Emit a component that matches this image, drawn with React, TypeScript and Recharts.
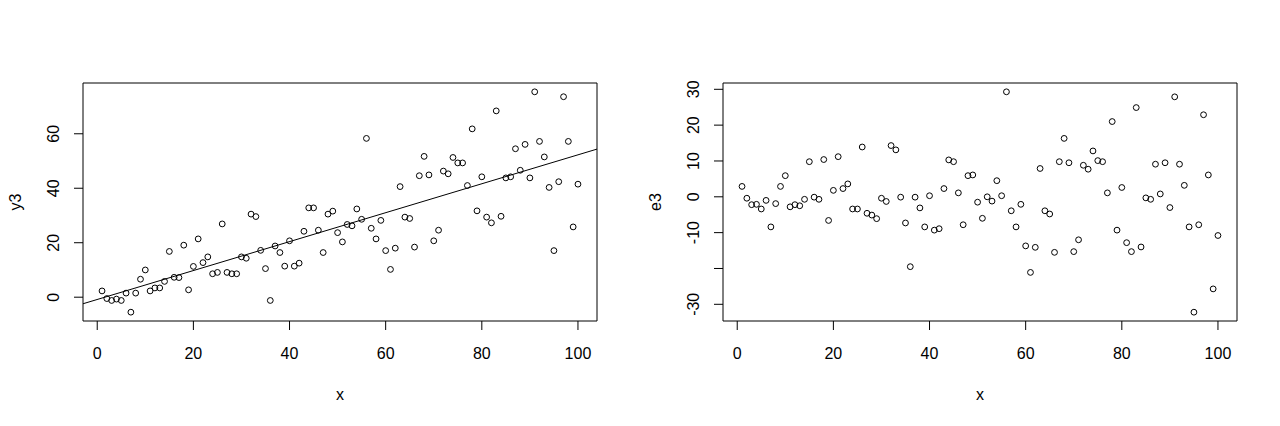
import React from "react";
import {
  ScatterChart,
  Scatter,
  XAxis,
  YAxis,
  ReferenceLine,
  ReferenceArea,
  Label,
} from "recharts";

// x is 1..100
const xValues = [
  1, 2, 3, 4, 5, 6, 7, 8, 9, 10, 11, 12, 13, 14, 15, 16, 17, 18, 19, 20,
  21, 22, 23, 24, 25, 26, 27, 28, 29, 30, 31, 32, 33, 34, 35, 36, 37, 38, 39, 40,
  41, 42, 43, 44, 45, 46, 47, 48, 49, 50, 51, 52, 53, 54, 55, 56, 57, 58, 59, 60,
  61, 62, 63, 64, 65, 66, 67, 68, 69, 70, 71, 72, 73, 74, 75, 76, 77, 78, 79, 80,
  81, 82, 83, 84, 85, 86, 87, 88, 89, 90, 91, 92, 93, 94, 95, 96, 97, 98, 99, 100,
];

const y3Values = [
  2.3, -0.5, -1.2, -0.7, -1.2, 1.5, -5.5, 1.5, 6.6, 10.0,
  2.3, 3.4, 3.4, 5.8, 16.8, 7.3, 7.2, 19.1, 2.7, 11.3,
  21.4, 12.7, 14.8, 8.6, 9.1, 26.9, 9.1, 8.6, 8.6, 14.8,
  14.3, 30.5, 29.6, 17.2, 10.5, -1.2, 18.8, 16.4, 11.4, 20.7,
  11.4, 12.5, 24.2, 32.8, 32.8, 24.6, 16.4, 30.5, 31.6, 23.7,
  20.3, 26.7, 26.2, 32.4, 28.6, 58.3, 25.3, 21.4, 28.2, 17.1,
  10.2, 18.0, 40.6, 29.4, 28.9, 18.4, 44.6, 51.7, 44.9, 20.7,
  24.6, 46.3, 45.3, 51.3, 49.3, 49.3, 41.0, 61.8, 31.7, 44.2,
  29.4, 27.3, 68.4, 29.7, 43.8, 44.2, 54.5, 46.6, 56.1, 43.8,
  75.4, 57.2, 51.5, 40.3, 17.1, 42.4, 73.6, 57.2, 25.8, 41.5,
];

const e3Values = [
  2.9, -0.4, -2.2, -2.1, -3.4, -1.0, -8.4, -1.9, 2.9, 5.9,
  -2.8, -2.2, -2.5, -0.7, 9.8, -0.1, -0.7, 10.4, -6.6, 1.8,
  11.2, 2.3, 3.6, -3.4, -3.4, 13.9, -4.6, -5.1, -6.1, -0.4,
  -1.3, 14.3, 13.1, -0.1, -7.3, -19.5, -0.1, -3.1, -8.4, 0.3,
  -9.3, -8.9, 2.3, 10.3, 9.8, 1.1, -7.8, 5.9, 6.1, -1.5,
  -6.0, 0.0, -1.2, 4.5, 0.3, 29.3, -3.9, -8.4, -2.1, -13.7,
  -21.1, -14.1, 7.9, -3.9, -4.8, -15.5, 9.8, 16.3, 9.5, -15.3,
  -12.0, 8.8, 7.7, 12.8, 10.1, 9.8, 1.1, 21.0, -9.3, 2.6,
  -12.8, -15.3, 24.9, -14.0, -0.3, -0.7, 9.1, 0.8, 9.5, -3.0,
  27.9, 9.1, 3.2, -8.4, -32.2, -7.8, 22.9, 6.1, -25.7, -10.8,
];

const xTicks = [0, 20, 40, 60, 80, 100];
const y3Ticks = [0, 20, 40, 60];
const e3Ticks = [-30, -20, -10, 0, 10, 20, 30];
// R drops the -20 label because it would overlap
const e3HiddenLabels = [-20];

const xDomain: [number, number] = [-2.96, 103.96];
const y3Domain: [number, number] = [-8.74, 78.64];
const e3Domain: [number, number] = [-34.66, 31.76];

const FONT = "'Liberation Sans', Arial, sans-serif";
const PANEL_W = 640;
const PANEL_H = 426;

const y3Data = xValues.map((x, i) => ({ x, y: y3Values[i] }));
const e3Data = xValues.map((x, i) => ({ x, y: e3Values[i] }));

// abline(lm(y3 ~ x))
const fit = (() => {
  const n = xValues.length;
  const mx = xValues.reduce((a, b) => a + b, 0) / n;
  const my = y3Values.reduce((a, b) => a + b, 0) / n;
  let sxy = 0;
  let sxx = 0;
  xValues.forEach((x, i) => {
    sxy += (x - mx) * (y3Values[i] - my);
    sxx += (x - mx) * (x - mx);
  });
  const b = sxy / sxx;
  return { a: my - b * mx, b };
})();

const OpenCircle = (props: any) => (
  <circle cx={props.cx} cy={props.cy} r={2.9} fill="none" stroke="#000" strokeWidth={1} />
);

const XTick = ({ x, payload }: any) => (
  <text x={x} y={353} textAnchor="middle" dominantBaseline="central" fontFamily={FONT} fontSize={16} fill="#000">
    {payload.value}
  </text>
);

const makeYTick = (hidden: number[]) => ({ y, payload }: any) =>
  hidden.includes(payload.value) ? (
    <g />
  ) : (
    <text
      x={54}
      y={y}
      transform={`rotate(-90, 54, ${y})`}
      textAnchor="middle"
      dominantBaseline="central"
      fontFamily={FONT}
      fontSize={16}
      fill="#000"
    >
      {payload.value}
    </text>
  );

type PanelProps = {
  data: { x: number; y: number }[];
  yDomain: [number, number];
  yTicks: number[];
  yLabel: string;
  hiddenLabels?: number[];
  withFit?: boolean;
};

const Panel = ({ data, yDomain, yTicks, yLabel, hiddenLabels = [], withFit }: PanelProps) => (
  <ScatterChart width={PANEL_W} height={PANEL_H} margin={{ top: 83, right: 43, bottom: 0, left: 0 }}>
    <XAxis
      type="number"
      dataKey="x"
      domain={xDomain}
      ticks={xTicks}
      allowDataOverflow
      height={105}
      axisLine={false}
      tickLine={{ stroke: "#000" }}
      tickSize={9}
      tick={<XTick />}
    >
      <Label
        content={() => (
          <text x={340} y={400} textAnchor="middle" fontFamily={FONT} fontSize={16} fill="#000">
            x
          </text>
        )}
      />
    </XAxis>
    <YAxis
      type="number"
      dataKey="y"
      domain={yDomain}
      ticks={yTicks}
      allowDataOverflow
      width={83}
      axisLine={false}
      tickLine={{ stroke: "#000" }}
      tickSize={9}
      tick={makeYTick(hiddenLabels)}
    >
      <Label
        content={() => (
          <text
            x={15}
            y={202}
            transform="rotate(-90, 15, 202)"
            textAnchor="middle"
            dominantBaseline="central"
            fontFamily={FONT}
            fontSize={16}
            fill="#000"
          >
            {yLabel}
          </text>
        )}
      />
    </YAxis>
    <Scatter data={data} shape={<OpenCircle />} isAnimationActive={false} />
    {withFit && (
      <ReferenceLine
        segment={[
          { x: xDomain[0], y: fit.a + fit.b * xDomain[0] },
          { x: xDomain[1], y: fit.a + fit.b * xDomain[1] },
        ]}
        stroke="#000"
        strokeWidth={1}
        ifOverflow="visible"
      />
    )}
    <ReferenceArea
      x1={xDomain[0]}
      x2={xDomain[1]}
      y1={yDomain[0]}
      y2={yDomain[1]}
      fill="none"
      stroke="#000"
      strokeWidth={1}
      ifOverflow="visible"
    />
  </ScatterChart>
);

export default function App() {
  return (
    <div
      style={{
        position: "absolute",
        left: 0,
        top: 0,
        width: 1280,
        height: 426,
        background: "#fff",
        display: "flex",
      }}
    >
      <Panel data={y3Data} yDomain={y3Domain} yTicks={y3Ticks} yLabel="y3" withFit />
      <Panel data={e3Data} yDomain={e3Domain} yTicks={e3Ticks} yLabel="e3" hiddenLabels={e3HiddenLabels} />
    </div>
  );
}
